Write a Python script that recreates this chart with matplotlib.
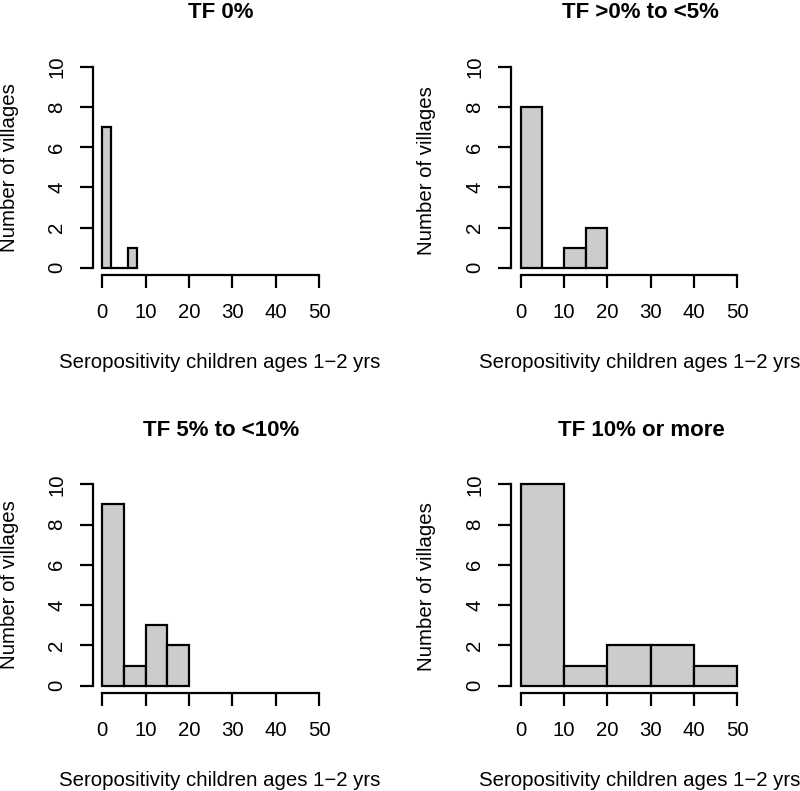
import matplotlib
matplotlib.use("Agg")
import matplotlib.pyplot as plt
import numpy as np

plt.rcParams['font.family'] = ['Liberation Sans', 'DejaVu Sans']

W, H = 800, 791

titles = ["TF 0%", "TF >0% to <5%", "TF 5% to <10%", "TF 10% or more"]
edges1 = [0, 2, 4, 6, 8]
counts1 = [7, 0, 0, 1]
edges2 = [0, 5, 10, 15, 20]
counts2 = [8, 0, 1, 2]
edges3 = [0, 5, 10, 15, 20]
counts3 = [9, 1, 3, 2]
edges4 = [0, 10, 20, 30, 40, 50]
counts4 = [10, 1, 2, 2, 1]
xticks = [0, 10, 20, 30, 40, 50]
yticks = [0, 2, 4, 6, 8, 10]
xlabel = "Seropositivity children ages 1\u22122 yrs"
ylabel = "Number of villages"

data = [(edges1, counts1), (edges2, counts2), (edges3, counts3), (edges4, counts4)]

# layout in pixels: (x0px, x50px, y0px, y10px, title_x, title_baseline, ylab_x, ylab_y, xlab_x, xlab_baseline)
layout = [
    (102.3, 319.0, 267.7, 66.7, 221, 18.5, 9.5, 168, 220, 368),
    (520.7, 737.3, 267.7, 66.7, 640, 18.5, 427, 171, 640, 368),
    (102.3, 319.0, 685.7, 484.3, 221, 435.5, 9.5, 585, 220, 786),
    (520.7, 737.3, 685.7, 484.3, 641, 435.5, 427, 587, 640, 786),
]

fig = plt.figure(figsize=(W / 100, H / 100), dpi=100)
px2pt = 72 / 100
FS = 14.7
LW = 1.6

for (edges, counts), title, lay in zip(data, titles, layout):
    x0, x50, y0, y10, tx, ty, ylx, yly, xlx, xly = lay
    ax = fig.add_axes([x0 / W, 1 - y0 / H, (x50 - x0) / W, (y0 - y10) / H])
    ax.set_xlim(0, 50)
    ax.set_ylim(0, 10)
    widths = np.diff(edges)
    ax.bar(edges[:-1], counts, width=widths, align='edge', color='#cccccc',
           edgecolor='black', linewidth=LW, clip_on=False)
    for s in ['top', 'right']:
        ax.spines[s].set_visible(False)
    ax.spines['left'].set_position(('outward', 9.6 * px2pt))
    ax.spines['bottom'].set_position(('outward', 7.6 * px2pt))
    ax.spines['left'].set_bounds(0, 10)
    ax.spines['bottom'].set_bounds(0, 50)
    ax.spines['left'].set_linewidth(LW)
    ax.spines['bottom'].set_linewidth(LW)
    ax.set_xticks(xticks)
    ax.set_yticks(yticks)
    ax.tick_params(axis='both', length=13.5 * px2pt, width=LW, labelsize=FS,
                   colors='black')
    ax.tick_params(axis='x', pad=10.5)
    ax.tick_params(axis='y', pad=9.5)
    for lab in ax.get_yticklabels():
        lab.set_rotation(90)
        lab.set_va('center')
    fig.text(tx / W, 1 - ty / H, title, ha='center', va='baseline',
             fontsize=16, fontweight='bold')
    fig.text(ylx / W, 1 - yly / H, ylabel, ha='center', va='center',
             rotation=90, fontsize=FS)
    fig.text(xlx / W, 1 - xly / H, xlabel, ha='center', va='baseline',
             fontsize=FS)

fig.savefig("out.png", dpi=100)
